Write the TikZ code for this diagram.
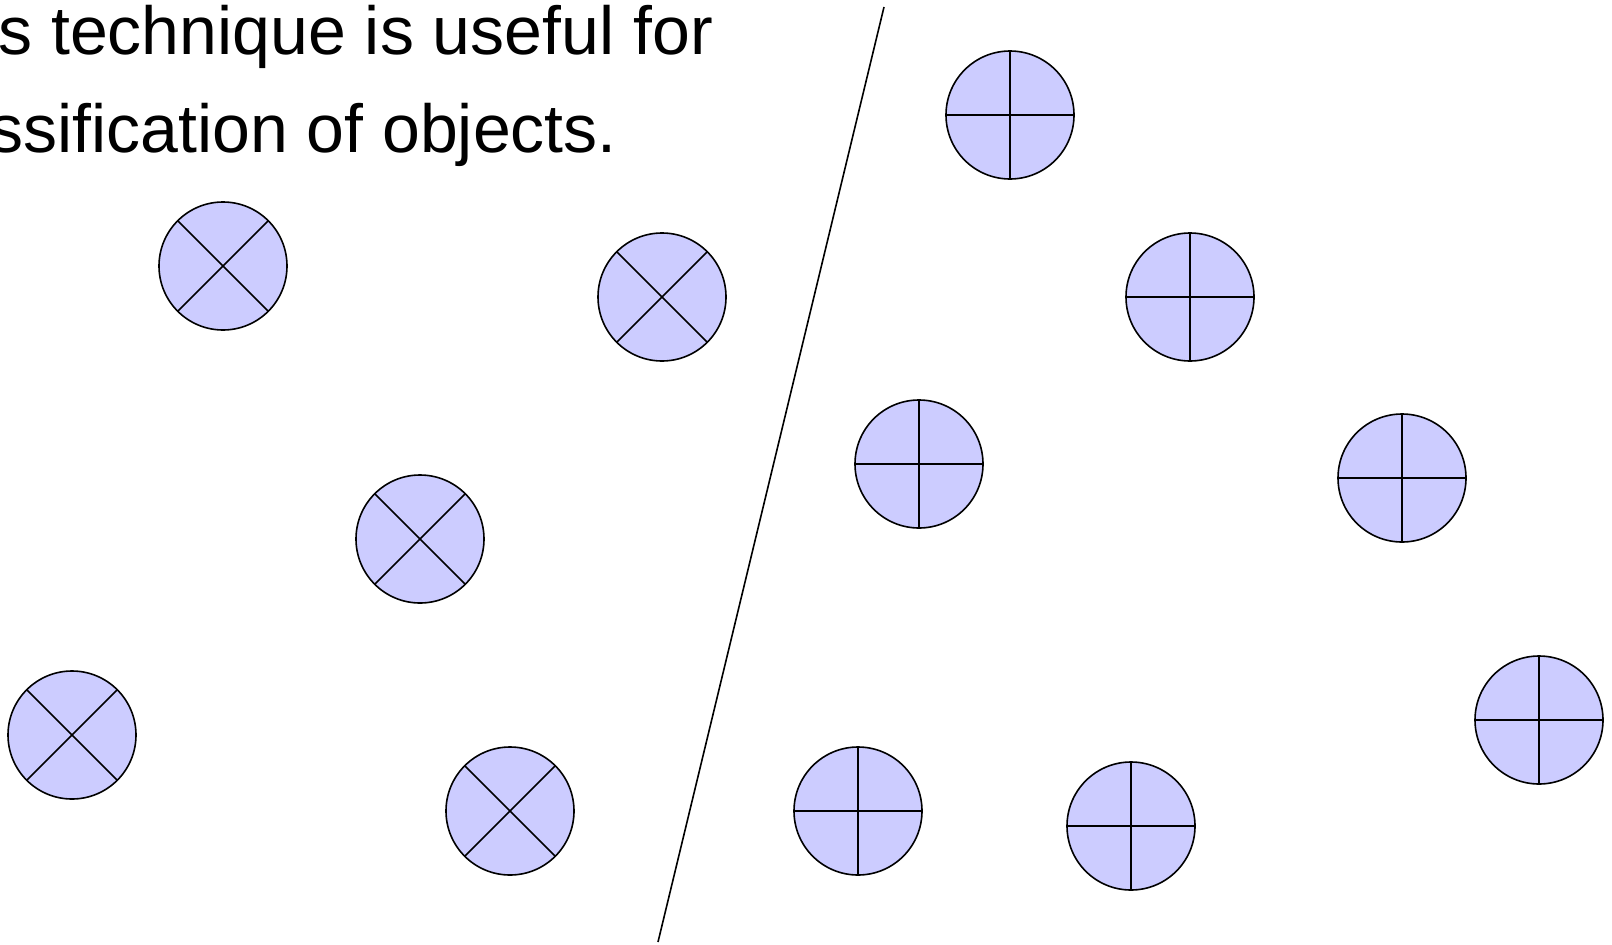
\documentclass[tikz,border=0pt]{standalone}
\usepackage{fontspec}
\setmainfont{Liberation Sans}
\begin{document}
\begin{tikzpicture}[x=1pt, y=-1pt,
    obj/.style={circle, draw, line width=1.6pt, fill=blue!20, minimum size=128pt, inner sep=0pt},
    xobj/.style={obj, path picture={
        \draw[line width=1.6pt] (path picture bounding box.center) ++(45:70pt) -- ++(225:140pt);
        \draw[line width=1.6pt] (path picture bounding box.center) ++(135:70pt) -- ++(315:140pt);}},
    pobj/.style={obj, path picture={
        \draw[line width=1.6pt] (path picture bounding box.north) -- (path picture bounding box.south);
        \draw[line width=1.6pt] (path picture bounding box.west) -- (path picture bounding box.east);}},
    caption/.style={anchor=base east, inner sep=0pt, font=\fontsize{68}{98}\selectfont}]
    \clip (0,0) rectangle (1612,945);

    % text at top
    \node[caption] (line1) at (713,54) {s technique is useful for};
    \node[caption] (line2) at (617,152) {ssification of objects.};

    % separating line
    \coordinate (top) at (884,7);
    \coordinate (bottom) at (658,942);
    \draw[line width=1.6pt] (top) -- (bottom);

    % class one
    \node[xobj] (x1) at (223,266) {};
    \node[xobj] (x2) at (662,297) {};
    \node[xobj] (x3) at (420,539) {};
    \node[xobj] (x4) at (72,735) {};
    \node[xobj] (x5) at (510,811) {};

    % class two
    \node[pobj] (p1) at (1010,115) {};
    \node[pobj] (p2) at (1190,297) {};
    \node[pobj] (p3) at (919,464) {};
    \node[pobj] (p4) at (1402,478) {};
    \node[pobj] (p5) at (1539,720) {};
    \node[pobj] (p6) at (858,811) {};
    \node[pobj] (p7) at (1131,826) {};
\end{tikzpicture}
\end{document}
